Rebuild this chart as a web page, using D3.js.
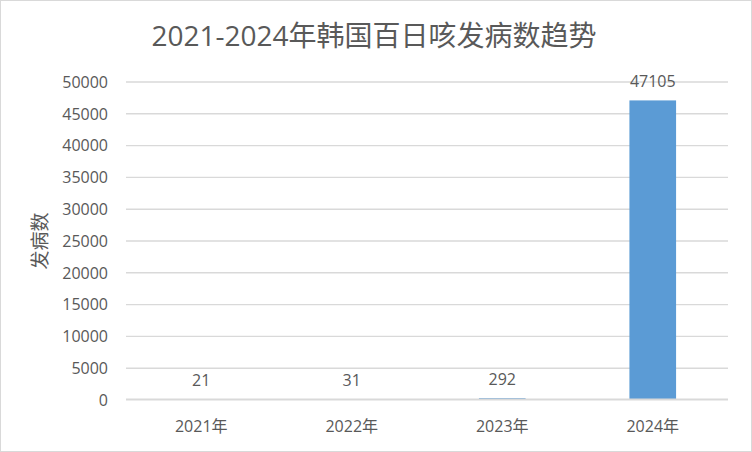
<!DOCTYPE html>
<html><head><meta charset="utf-8">
<script src="https://cdn.jsdelivr.net/npm/d3@7"></script>
<style>body{margin:0;background:#fff;}svg{display:block;}text{font-family:"Open Sans","Noto Sans CJK SC",sans-serif;fill:#595959;}</style>
</head><body>
<script>
const title = "2021-2024年韩国百日咳发病数趋势";
const categories = ["2021年","2022年","2023年","2024年"];
const values = [21, 31, 292, 47105];
const yTicks = [0,5000,10000,15000,20000,25000,30000,35000,40000,45000,50000];
const yTitle = "发病数";

(function(){
const W = 752, H = 452;
const svg = d3.select("body").append("svg").attr("width", W).attr("height", H);
svg.append("rect").attr("x",0.5).attr("y",0.5).attr("width",W-1).attr("height",H-1)
  .attr("fill","#fff").attr("stroke","#d9d9d9");

const mL = 126, mR = 728, mT = 82, mB = 400;
const x = d3.scaleBand().domain(categories).range([mL, mR]).padding(0);
const y = d3.scaleLinear().domain([0, 50000]).range([mB, mT]);

svg.append("g").selectAll("line").data(yTicks.filter(d => d !== 0)).join("line")
  .attr("x1", mL).attr("x2", mR)
  .attr("y1", d => y(d)).attr("y2", d => y(d))
  .attr("stroke", "#d9d9d9").attr("stroke-width", 1.4);

svg.append("g").selectAll("text").data(yTicks).join("text")
  .attr("x", 108).attr("y", d => y(d)).attr("dy", "0.36em")
  .attr("text-anchor", "end").style("font-size", "16px").text(d => d);

const bw = x.bandwidth() * 0.31;
svg.append("g").selectAll("rect").data(values).join("rect")
  .attr("x", (d,i) => x(categories[i]) + x.bandwidth()/2 - bw/2)
  .attr("width", bw)
  .attr("y", d => y(d)).attr("height", d => y(0) - y(d))
  .attr("fill", "#5b9bd5");

// baseline on top
svg.append("line").attr("x1", mL).attr("x2", mR)
  .attr("y1", y(0) - 0.5).attr("y2", y(0) - 0.5)
  .attr("stroke", "#d9d9d9").attr("stroke-width", 2);

svg.append("g").selectAll("text").data(values).join("text")
  .attr("x", (d,i) => x(categories[i]) + x.bandwidth()/2)
  .attr("y", d => y(d) - 13.5)
  .attr("text-anchor", "middle").style("font-size", "16px").text(d => d);

svg.append("g").selectAll("text").data(categories).join("text")
  .attr("x", d => x(d) + x.bandwidth()/2).attr("y", 432)
  .attr("text-anchor", "middle").style("font-size", "16px").text(d => d);

svg.append("text").attr("transform", "translate(47,241) rotate(-90)")
  .attr("text-anchor", "middle").style("font-size", "19px").text(yTitle);

svg.append("text").attr("x", 374).attr("y", 46)
  .attr("text-anchor", "middle").style("font-size", "28px").text(title);
})();
</script>
</body></html>
